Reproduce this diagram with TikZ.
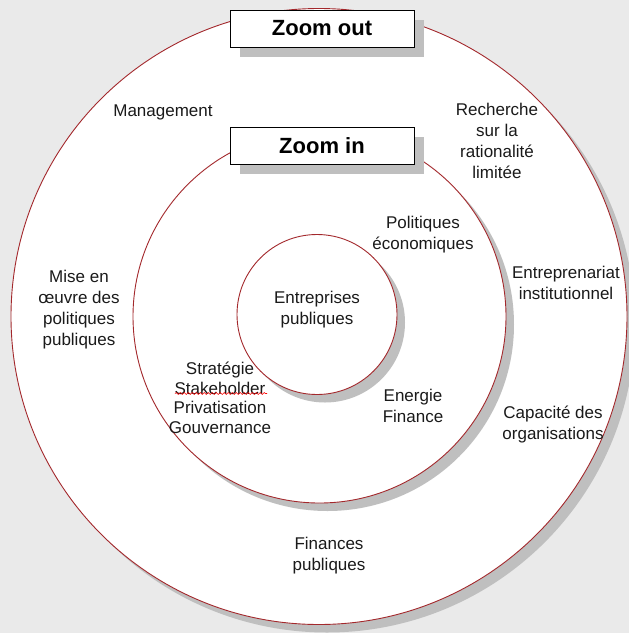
\documentclass[tikz,border=0pt]{standalone}
\usepackage{fontspec}
\setmainfont{Liberation Sans}
\usetikzlibrary{shadows,decorations.pathmorphing}
\definecolor{bg}{HTML}{EAEAEA}
\definecolor{ring}{HTML}{A3282C}
\definecolor{shade}{HTML}{BFBFBF}
\definecolor{txt}{HTML}{1A1A1A}
\begin{document}
\begin{tikzpicture}[x=1pt,y=-1pt,
  ringc/.style={circle, draw=ring, line width=0.9pt, fill=white, inner sep=0pt,
    drop shadow={shadow xshift=8pt, shadow yshift=-8pt, fill=shade, opacity=1}},
  zoombox/.style={draw=black, line width=1pt, fill=white, minimum width=184pt,
    minimum height=37pt, inner sep=0pt, text=black,
    font=\fontsize{22}{26}\selectfont\bfseries,
    drop shadow={shadow xshift=10pt, shadow yshift=-10pt, fill=shade, opacity=1}},
  lbl/.style={align=center, inner sep=0pt, text=txt, font=\fontsize{17}{21}\selectfont},
  spell/.style={draw=red, line width=0.6pt, decorate,
    decoration={snake, segment length=4pt, amplitude=0.9pt}}]
\useasboundingbox (0,0) rectangle (629,633);
\fill[bg] (0,0) rectangle (629,633);
% rings
\node[ringc, minimum size=616pt] (outer) at (319,316.5) {};
\node[ringc, minimum size=373pt] (middle) at (319.5,316.5) {};
\node[ringc, minimum size=160pt] (inner) at (317,314.5) {};
% title boxes
\node[zoombox] (zout) at (322,28.5) {Zoom out};
\node[zoombox] (zin) at (322,145.5) {Zoom in};
% outer ring labels
\node[lbl] (mgmt) at (163,112) {Management};
\node[lbl] (rech) at (497,141) {Recherche\\sur la\\rationalité\\limitée};
\node[lbl] (mise) at (79,310) {Mise en\\œuvre des\\politiques\\publiques};
\node[lbl] (entr) at (566,283) {Entreprenariat\\institutionnel};
\node[lbl] (capa) at (553,424) {Capacité des\\organisations};
\node[lbl] (finp) at (329,556) {Finances\\publiques};
% middle ring labels
\node[lbl] (poli) at (423,235) {Politiques\\économiques};
\node[lbl, font=\fontsize{17}{19.5}\selectfont] (strat) at (220,398) {Stratégie\\Stakeholder\\Privatisation\\Gouvernance};
\node[lbl] (ener) at (413,406) {Energie\\Finance};
% inner label
\node[lbl] (entp) at (317,310) {Entreprises\\publiques};
% spell-check underline
\coordinate (sa) at (175,393.5);
\coordinate (sb) at (267,393.5);
\draw[spell] (sa) -- (sb);
\end{tikzpicture}
\end{document}
